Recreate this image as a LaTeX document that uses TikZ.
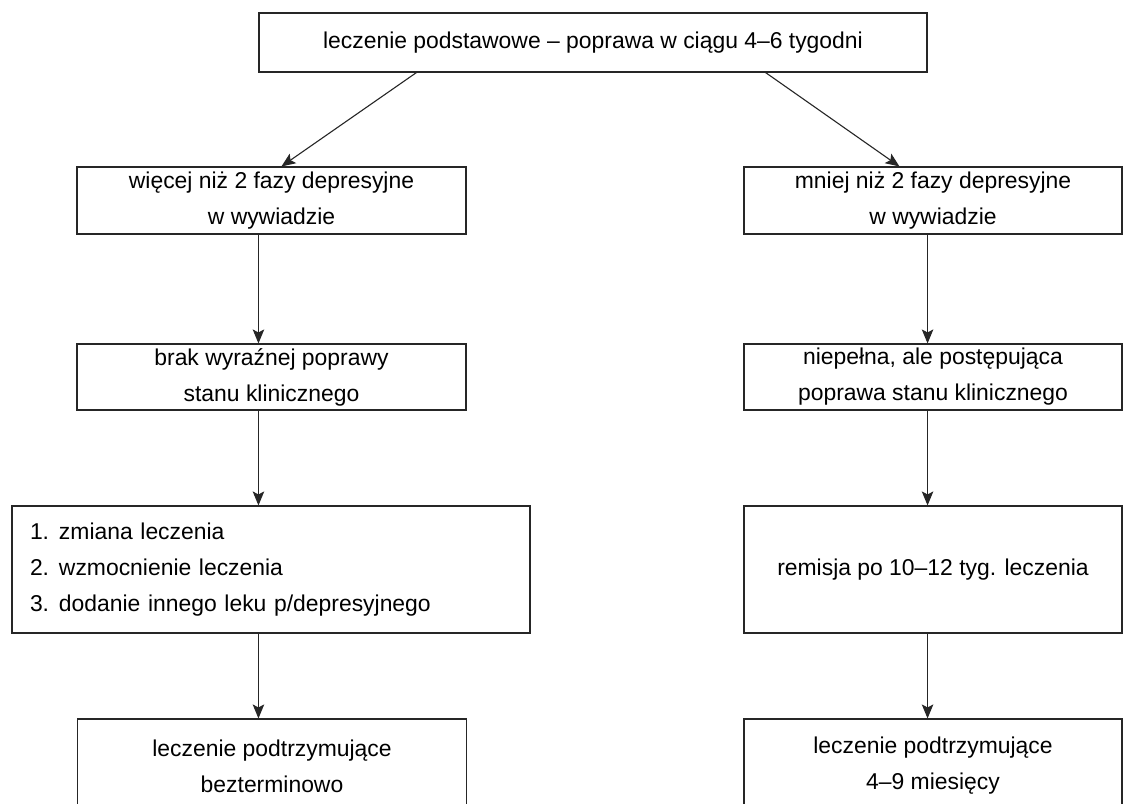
\documentclass[tikz,border=0pt]{standalone}
\usepackage{fontspec}
\setmainfont{Liberation Sans}
\usetikzlibrary{arrows.meta,calc}
\begin{document}
\begin{tikzpicture}[x=1pt,y=-1pt,
  box/.style={draw=black!85,line width=1.1pt,rectangle,inner sep=0pt,align=center,
    font=\fontsize{22.9pt}{36pt}\selectfont},
  arr/.style={draw=black!85,line width=1.1pt,-{Stealth[length=14pt,width=11.5pt,inset=3pt]}}]
\useasboundingbox (0,0) rectangle (1123,803);
\clip (0,0) rectangle (1123,803);
\fill[white] (0,0) rectangle (1123,803);
\node[box,minimum width=668pt,minimum height=59pt] (top) at (593,42.5) {leczenie podstawowe – poprawa w ciągu 4–6 tygodni};
\node[box,minimum width=389pt,minimum height=67pt] (L1) at (271.5,200.5) {więcej niż 2 fazy depresyjne\\w wywiadzie};
\node[box,minimum width=378pt,minimum height=67pt] (R1) at (933,200.5) {mniej niż 2 fazy depresyjne\\w wywiadzie};
\node[box,minimum width=389pt,minimum height=66pt] (L2) at (271.5,377) {brak wyraźnej poprawy\\stanu klinicznego};
\node[box,minimum width=378pt,minimum height=66pt] (R2) at (933,377) {niepełna, ale postępująca\\poprawa stanu klinicznego};
\node[box,text width=482pt,inner xsep=18pt,align=left,minimum height=127pt] (L3) at (271,569.5)
  {\makebox[29pt][l]{1.}zmiana leczenia\\\makebox[29pt][l]{2.}wzmocnienie leczenia\\\makebox[29pt][l]{3.}dodanie innego leku p/depresyjnego};
\node[box,minimum width=378pt,minimum height=127pt] (R3) at (933,569.5) {remisja po 10–12 tyg. leczenia};
\node[box,minimum width=389pt,minimum height=94pt] (L4) at (272,766) {leczenie podtrzymujące\\bezterminowo};
\node[box,minimum width=378pt,minimum height=94pt] (R4) at (933,766) {leczenie podtrzymujące\\4–9 miesięcy};
\draw[arr] ([xshift=158pt]top.south west) -- ([xshift=205pt]L1.north west);
\draw[arr] ([xshift=-162pt]top.south east) -- ([xshift=156pt]R1.north west);
\draw[arr] (L1.south -| top.west) -- (L2.north -| top.west);
\draw[arr] (L2.south -| top.west) -- (L3.north -| top.west);
\draw[arr] (L3.south -| top.west) -- (L4.north -| top.west);
\draw[arr] (R1.south -| top.east) -- (R2.north -| top.east);
\draw[arr] (R2.south -| top.east) -- (R3.north -| top.east);
\draw[arr] (R3.south -| top.east) -- (R4.north -| top.east);
\end{tikzpicture}
\end{document}
